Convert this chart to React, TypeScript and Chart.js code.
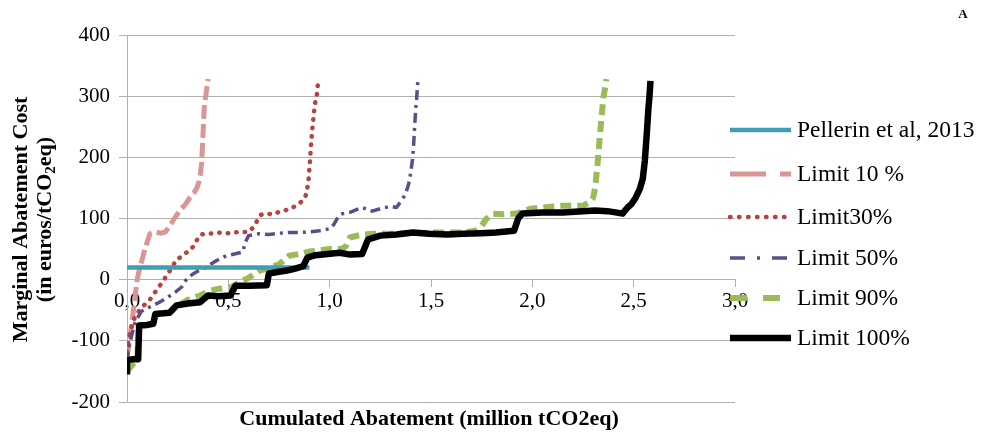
import React, { useEffect, useRef } from 'react';
import { Chart, registerables } from 'chart.js';

Chart.register(...registerables);

// ---------- data ----------
const xTickValues = [0, 0.5, 1.0, 1.5, 2.0, 2.5, 3.0];
const yTickValues = [-200, -100, 0, 100, 200, 300, 400];

const seriesNames = ['Pellerin et al, 2013', 'Limit 10 %', 'Limit30%', 'Limit 50%', 'Limit 90%', 'Limit 100%'];

const pellerinX = [0, 0.9];
const pellerinY = [20, 20];

const limit10X = [0, 0.01, 0.02, 0.03, 0.04, 0.05, 0.06, 0.073, 0.09, 0.113, 0.14, 0.17, 0.19, 0.21, 0.23, 0.26, 0.29, 0.31, 0.33, 0.345, 0.355, 0.362, 0.368, 0.372, 0.376, 0.38, 0.385, 0.39, 0.395, 0.4];
const limit10Y = [-127, -105, -80, -55, -28, 0, 15, 31, 52, 75, 78, 76, 78, 88, 98, 113, 124, 134, 142, 150, 160, 172, 190, 215, 245, 276, 292, 304, 315, 328];

const limit30X = [0, 0.01, 0.02, 0.04, 0.07, 0.11, 0.15, 0.18, 0.2, 0.22, 0.24, 0.26, 0.28, 0.31, 0.335, 0.35, 0.365, 0.4, 0.45, 0.5, 0.55, 0.6, 0.625, 0.645, 0.66, 0.68, 0.72, 0.76, 0.8, 0.84, 0.87, 0.885, 0.895, 0.902, 0.908, 0.914, 0.92, 0.926, 0.932, 0.938, 0.942];
const limit30Y = [-118, -95, -80, -60, -46, -34, -15, -2, 10, 18, 31, 36, 42, 47, 58, 68, 74, 75, 77, 76, 78, 78, 86, 98, 106, 108, 107, 112, 115, 122, 130, 140, 160, 190, 220, 245, 265, 285, 295, 305, 320];

const limit50X = [0, 0.01, 0.02, 0.04, 0.07, 0.11, 0.16, 0.2, 0.24, 0.27, 0.29, 0.32, 0.35, 0.39, 0.44, 0.49, 0.53, 0.57, 0.585, 0.6, 0.65, 0.7, 0.75, 0.8, 0.85, 0.9, 0.95, 1.0, 1.02, 1.045, 1.065, 1.1, 1.16, 1.21, 1.25, 1.3, 1.33, 1.355, 1.375, 1.39, 1.4, 1.41, 1.415, 1.42, 1.425, 1.43, 1.435];
const limit50Y = [-135, -110, -95, -70, -52, -45, -37, -29, -20, -12, -1, 8, 14, 20, 31, 39, 42, 45, 62, 72, 75, 74, 76, 77, 77, 78, 80, 83, 90, 104, 108, 110, 118, 112, 116, 120, 118, 130, 140, 157, 175, 200, 225, 255, 280, 300, 325];

const limit90X = [0, 0.05, 0.06, 0.13, 0.14, 0.21, 0.24, 0.3, 0.36, 0.41, 0.45, 0.51, 0.54, 0.6, 0.655, 0.69, 0.75, 0.8, 0.85, 0.9, 0.95, 1.0, 1.06, 1.08, 1.1, 1.15, 1.21, 1.3, 1.4, 1.49, 1.58, 1.66, 1.72, 1.75, 1.77, 1.8, 1.86, 1.92, 1.96, 1.99, 2.05, 2.15, 2.25, 2.28, 2.3, 2.31, 2.32, 2.33, 2.34, 2.35, 2.36, 2.365];
const limit90Y = [-150, -130, -75, -72, -56, -54, -45, -33, -26, -18, -15, -13, -7, 3, 15, 18, 25, 39, 42, 46, 48, 50, 50, 55, 69, 73, 75, 75, 76, 77, 77, 77, 80, 88, 98, 108, 107, 108, 112, 116, 118, 121, 121, 126, 134, 150, 183, 222, 260, 297, 315, 328];

const limit100X = [0, 0, 0.03, 0.055, 0.06, 0.1, 0.13, 0.14, 0.18, 0.21, 0.245, 0.3, 0.36, 0.4, 0.45, 0.51, 0.535, 0.6, 0.69, 0.7, 0.75, 0.79, 0.83, 0.87, 0.89, 0.93, 0.99, 1.05, 1.1, 1.16, 1.19, 1.25, 1.33, 1.41, 1.49, 1.58, 1.66, 1.75, 1.82, 1.91, 1.93, 1.95, 2.05, 2.15, 2.25, 2.31, 2.37, 2.41, 2.445, 2.47, 2.49, 2.51, 2.53, 2.545, 2.555, 2.565, 2.572, 2.578, 2.583];
const limit100Y = [-155, -132, -130, -130, -75, -74, -72, -56, -55, -54, -42, -39, -37, -26, -27, -26, -10, -10, -9, 10, 13, 15, 18, 22, 36, 40, 42, 44, 41, 42, 66, 72, 74, 77, 75, 74, 75, 76, 77, 80, 100, 108, 110, 110, 112, 113, 112, 110, 108, 118, 124, 134, 148, 165, 194, 240, 276, 300, 325];

const xTitle = 'Cumulated Abatement (million tCO2eq)';
const yTitleLine1 = 'Marginal Abatement Cost';
const yTitleLine2 = ['(in euros/tCO', '2', 'eq)'];
const panelLabel = 'A';

// ---------- styles ----------
const FONT = '"Liberation Serif", "Times New Roman", serif';
const GRID = '#b0b0b0';

const styles = [
  { color: '#3f9db4', width: 4.5, dash: [] as number[], cap: 'butt', legendDash: [] as number[], order: 1 },
  { color: '#d99694', width: 5, dash: [14, 5], cap: 'butt', legendDash: [36, 14], order: 5 },
  { color: '#b8423f', width: 4.5, dash: [0.5, 8], cap: 'round', legendDash: [0.5, 8.5], order: 4 },
  { color: '#5e4d86', width: 3.5, dash: [10, 5, 3, 5], cap: 'butt', legendDash: [15, 12, 3, 12], order: 3 },
  { color: '#9bbb59', width: 6, dash: [11, 6], cap: 'butt', legendDash: [17, 16], order: 2 },
  { color: '#000000', width: 6.5, dash: [] as number[], cap: 'butt', legendDash: [] as number[], order: 0 },
];

const toPoints = (xs: number[], ys: number[]) => xs.map((x, i) => ({ x, y: ys[i] }));

const seriesData = [
  toPoints(pellerinX, pellerinY),
  toPoints(limit10X, limit10Y),
  toPoints(limit30X, limit30Y),
  toPoints(limit50X, limit50Y),
  toPoints(limit90X, limit90Y),
  toPoints(limit100X, limit100Y),
];

const fmt = (v: number) => Number(v).toFixed(1).replace('.', ',');

const annotationPlugin = {
  id: 'customText',
  afterDraw(chart: any) {
    const ctx = chart.ctx as CanvasRenderingContext2D;
    const area = chart.chartArea;
    ctx.save();
    ctx.fillStyle = '#000';

    // x title
    ctx.font = `bold 22px ${FONT}`;
    ctx.textAlign = 'center';
    ctx.textBaseline = 'middle';
    ctx.fillText(xTitle, (area.left + area.right) / 2 - 2, 419);

    // y title
    ctx.save();
    ctx.translate(21, (area.top + area.bottom) / 2 + 1);
    ctx.rotate(-Math.PI / 2);
    ctx.font = `bold 22px ${FONT}`;
    ctx.textAlign = 'center';
    ctx.textBaseline = 'middle';
    ctx.fillText(yTitleLine1, 0, 0);
    const big = `bold 22px ${FONT}`;
    const small = `bold 15px ${FONT}`;
    ctx.font = big;
    const w0 = ctx.measureText(yTitleLine2[0]).width;
    const w2 = ctx.measureText(yTitleLine2[2]).width;
    ctx.font = small;
    const w1 = ctx.measureText(yTitleLine2[1]).width;
    let sx = -(w0 + w1 + w2) / 2;
    ctx.textAlign = 'left';
    ctx.font = big;
    ctx.fillText(yTitleLine2[0], sx, 24);
    sx += w0;
    ctx.font = small;
    ctx.fillText(yTitleLine2[1], sx, 30);
    sx += w1;
    ctx.font = big;
    ctx.fillText(yTitleLine2[2], sx, 24);
    ctx.restore();

    // legend
    const legendYs = [130, 174, 217, 258, 298, 338];
    seriesNames.forEach((name, i) => {
      const st = styles[i];
      const y = legendYs[i];
      ctx.save();
      ctx.strokeStyle = st.color;
      ctx.lineWidth = st.width;
      ctx.lineCap = st.cap as CanvasLineCap;
      ctx.setLineDash(st.legendDash);
      ctx.beginPath();
      ctx.moveTo(730, y);
      ctx.lineTo(791, y);
      ctx.stroke();
      ctx.restore();
      ctx.font = `23.5px ${FONT}`;
      ctx.textAlign = 'left';
      ctx.textBaseline = 'middle';
      ctx.fillStyle = '#000';
      ctx.fillText(name, 797, y + 1);
    });

    // panel label
    ctx.font = `bold 13px ${FONT}`;
    ctx.textAlign = 'center';
    ctx.textBaseline = 'middle';
    ctx.fillText(panelLabel, 963, 15);
    ctx.restore();
  },
};

export default function App() {
  const ref = useRef<HTMLCanvasElement | null>(null);

  useEffect(() => {
    if (!ref.current) return;
    const chart = new Chart(ref.current, {
      type: 'scatter',
      data: {
        datasets: seriesNames.map((name, i) => ({
          label: name,
          data: seriesData[i],
          showLine: true,
          borderColor: styles[i].color,
          backgroundColor: styles[i].color,
          borderWidth: styles[i].width,
          borderDash: styles[i].dash,
          borderCapStyle: styles[i].cap as CanvasLineCap,
          borderJoinStyle: 'round' as CanvasLineJoin,
          pointRadius: 0,
          pointHoverRadius: 0,
          tension: 0,
          order: styles[i].order,
        })),
      },
      options: {
        animation: false,
        responsive: false,
        devicePixelRatio: 1,
        layout: { padding: { left: 0, right: 252, top: 35, bottom: 34 } },
        plugins: {
          legend: { display: false },
          tooltip: { enabled: false },
        },
        scales: {
          x: {
            type: 'linear',
            position: { y: 0 } as any,
            min: 0,
            max: 3,
            afterBuildTicks: (scale: any) => {
              scale.ticks = xTickValues.map((v) => ({ value: v }));
            },
            ticks: {
              callback: (v: any) => fmt(v),
              color: '#000',
              font: { family: FONT, size: 21 },
              padding: 2,
              maxRotation: 0,
              autoSkip: false,
            },
            grid: { drawOnChartArea: false, drawTicks: true, tickLength: 7, color: GRID },
            border: { display: true, color: GRID },
          },
          y: {
            type: 'linear',
            position: 'left',
            min: -200,
            max: 400,
            afterBuildTicks: (scale: any) => {
              scale.ticks = yTickValues.map((v) => ({ value: v }));
            },
            afterFit: (scale: any) => {
              scale.width = 127;
            },
            ticks: {
              color: '#000',
              font: { family: FONT, size: 21 },
              padding: 9,
            },
            grid: { color: GRID, tickLength: 8 },
            border: { display: true, color: GRID },
          },
        },
      },
      plugins: [annotationPlugin],
    });
    return () => chart.destroy();
  }, []);

  return (
    <div style={{ position: 'fixed', left: 0, top: 0, width: 987, height: 436, background: '#fff' }}>
      <canvas ref={ref} width={987} height={436} style={{ display: 'block', width: 987, height: 436 }} />
    </div>
  );
}
